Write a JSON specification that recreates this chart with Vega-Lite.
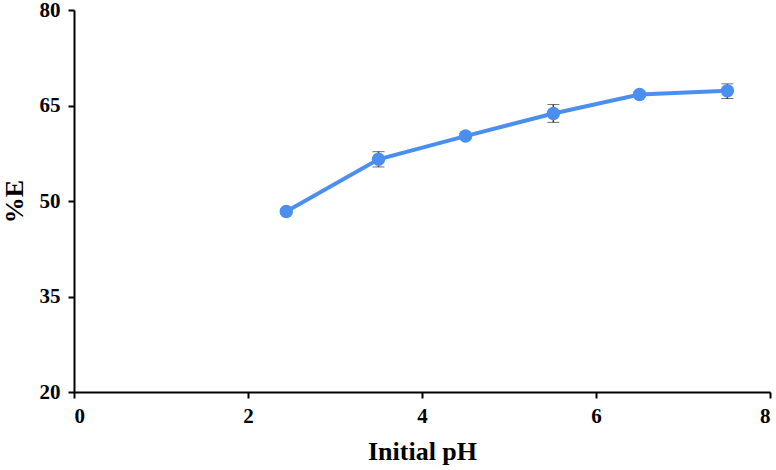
{
  "$schema": "https://vega.github.io/schema/vega-lite/v6.json",
  "width": 696,
  "height": 382,
  "autosize": {"type": "none"},
  "padding": {"left": 74, "top": 10, "right": 6, "bottom": 78},
  "background": "white",
  "config": {
    "view": {"stroke": null},
    "axis": {
      "grid": false,
      "domainColor": "#000000",
      "domainWidth": 2,
      "tickColor": "#000000",
      "tickWidth": 2,
      "tickSize": 6,
      "labelFont": "Liberation Serif",
      "labelFontWeight": "bold",
      "labelFontSize": 21,
      "labelColor": "#000000",
      "titleFont": "Liberation Serif",
      "titleFontWeight": "bold",
      "titleFontSize": 26,
      "titleColor": "#000000"
    }
  },
  "data": {
    "values": [
      {"pH": 2.44, "E": 48.35, "lo": 47.95, "hi": 48.75},
      {"pH": 3.5, "E": 56.55, "lo": 55.35, "hi": 57.75},
      {"pH": 4.5, "E": 60.2, "lo": 59.8, "hi": 60.6},
      {"pH": 5.51, "E": 63.75, "lo": 62.35, "hi": 65.15},
      {"pH": 6.5, "E": 66.73, "lo": 66.33, "hi": 67.13},
      {"pH": 7.51, "E": 67.3, "lo": 66.1, "hi": 68.4}
    ]
  },
  "encoding": {
    "x": {
      "field": "pH",
      "type": "quantitative",
      "scale": {"domain": [0, 8], "nice": false, "zero": false},
      "axis": {"values": [0, 2, 4, 6, 8], "title": "Initial pH", "labelPadding": 7, "titlePadding": 12}
    }
  },
  "layer": [
    {
      "mark": {"type": "errorbar", "color": "#333333", "ticks": {"size": 12, "strokeWidth": 2.5}, "rule": {"strokeWidth": 1.5}},
      "encoding": {
        "y": {"field": "lo", "type": "quantitative", "scale": {"domain": [20, 80], "nice": false, "zero": false}, "title": "%E"},
        "y2": {"field": "hi"}
      }
    },
    {
      "mark": {"type": "line", "color": "#4a8ff0", "strokeWidth": 4},
      "encoding": {
        "y": {"field": "E", "type": "quantitative", "scale": {"domain": [20, 80], "nice": false, "zero": false}, "axis": {"values": [20, 35, 50, 65, 80], "title": "%E", "labelPadding": 8, "titlePadding": 12}}
      }
    },
    {
      "mark": {"type": "point", "shape": "circle", "filled": true, "opacity": 1, "color": "#4a8ff0", "size": 180},
      "encoding": {
        "y": {"field": "E", "type": "quantitative"}
      }
    }
  ]
}
